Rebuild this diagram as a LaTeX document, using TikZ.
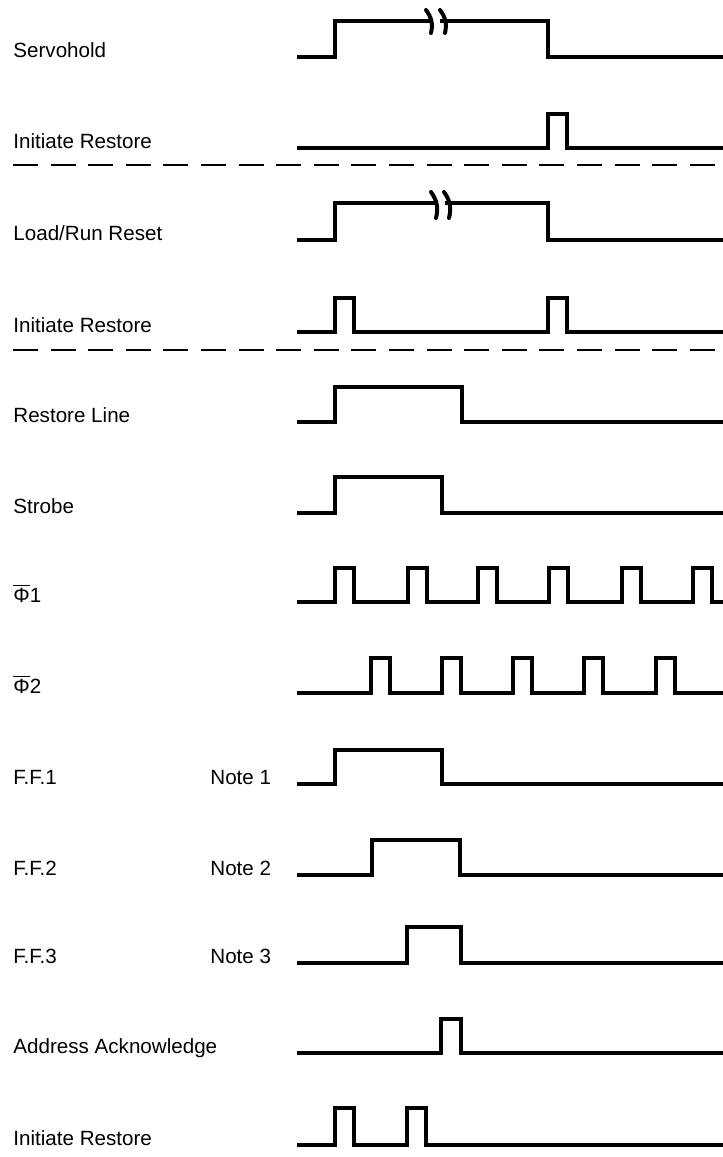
\documentclass[tikz,border=0pt]{standalone}
\usepackage{fontspec}
\setmainfont{Liberation Sans}
\usepackage{tikz}

\begin{document}
\begin{tikzpicture}[
    x=0.5pt, y=-0.5pt,
    signal/.style={line width=2.1pt, line join=miter},
    siglabel/.style={anchor=base west, inner sep=0pt, font=\fontsize{10.3}{12}\selectfont},
    divider/.style={line width=1.3pt, dash pattern=on 12.5pt off 6.3pt},
    brk/.style={line width=2pt, line cap=round}
]
\useasboundingbox (0,0) rectangle (723,1157);

% labels
\node[siglabel] (servo) at (13,57) {Servohold};
\node[siglabel] (init1) at (13,148) {Initiate Restore};
\node[siglabel] (lrr) at (13,240) {Load/Run Reset};
\node[siglabel] (init2) at (13,332) {Initiate Restore};
\node[siglabel] (rline) at (13,422) {Restore Line};
\node[siglabel] (strobe) at (13,513) {Strobe};
\node[siglabel] (phi1) at (13,602) {$\overline{\hbox{Φ}}$1};
\node[siglabel] (phi2) at (13,693) {$\overline{\hbox{Φ}}$2};
\node[siglabel] (ff1) at (13,784) {F.F.1};
\node[siglabel] (ff2) at (13,875) {F.F.2};
\node[siglabel] (ff3) at (13,963) {F.F.3};
\node[siglabel] (note1) at (210,784) {Note 1};
\node[siglabel] (note2) at (210,875) {Note 2};
\node[siglabel] (note3) at (210,963) {Note 3};
\node[siglabel] (ack) at (13,1053) {Address Acknowledge};
\node[siglabel] (init3) at (13,1145) {Initiate Restore};

% dividers
\draw[divider] (13,165) -- (723,165);
\draw[divider] (13,350) -- (723,350);

% waveforms
\draw[signal] (297,57) -- (335,57) -- (335,21) -- (548,21) -- (548,57) -- (723,57);
\draw[signal] (297,148) -- (548,148) -- (548,114) -- (567,114) -- (567,148) -- (723,148);
\draw[signal] (297,240) -- (335,240) -- (335,203) -- (548,203) -- (548,240) -- (723,240);
\draw[signal] (297,332) -- (335,332) -- (335,298) -- (354,298) -- (354,332)
    -- (548,332) -- (548,298) -- (567,298) -- (567,332) -- (723,332);
\draw[signal] (297,422) -- (335,422) -- (335,387) -- (462,387) -- (462,422) -- (723,422);
\draw[signal] (297,513) -- (335,513) -- (335,477) -- (442,477) -- (442,513) -- (723,513);
\draw[signal] (297,602) -- (335,602) -- (335,568) -- (354,568) -- (354,602)
    -- (408,602) -- (408,568) -- (427,568) -- (427,602)
    -- (478,602) -- (478,568) -- (497,568) -- (497,602)
    -- (549,602) -- (549,568) -- (568,568) -- (568,602)
    -- (622,602) -- (622,568) -- (641,568) -- (641,602)
    -- (693,602) -- (693,568) -- (712,568) -- (712,602) -- (723,602);
\draw[signal] (297,693) -- (371,693) -- (371,658) -- (390,658) -- (390,693)
    -- (442,693) -- (442,658) -- (461,658) -- (461,693)
    -- (513,693) -- (513,658) -- (532,658) -- (532,693)
    -- (584,693) -- (584,658) -- (603,658) -- (603,693)
    -- (656,693) -- (656,658) -- (675,658) -- (675,693) -- (723,693);
\draw[signal] (297,784) -- (335,784) -- (335,750) -- (442,750) -- (442,784) -- (723,784);
\draw[signal] (297,875) -- (372,875) -- (372,840) -- (460,840) -- (460,875) -- (723,875);
\draw[signal] (297,963) -- (407,963) -- (407,927) -- (461,927) -- (461,963) -- (723,963);
\draw[signal] (297,1053) -- (441,1053) -- (441,1019) -- (461,1019) -- (461,1053) -- (723,1053);
\draw[signal] (297,1145) -- (335,1145) -- (335,1108) -- (354,1108) -- (354,1145)
    -- (407,1145) -- (407,1108) -- (426,1108) -- (426,1145) -- (723,1145);

% time breaks
\fill[white] (431,15) rectangle (440,27);
\draw[brk] (426,10) to[bend left=25] (431,33);
\draw[brk] (440,10) to[bend left=25] (445,33);
\fill[white] (437,197) rectangle (445,209);
\draw[brk] (431,192) to[bend left=25] (436,218);
\draw[brk] (444,192) to[bend left=25] (449,218);

\end{tikzpicture}
\end{document}
